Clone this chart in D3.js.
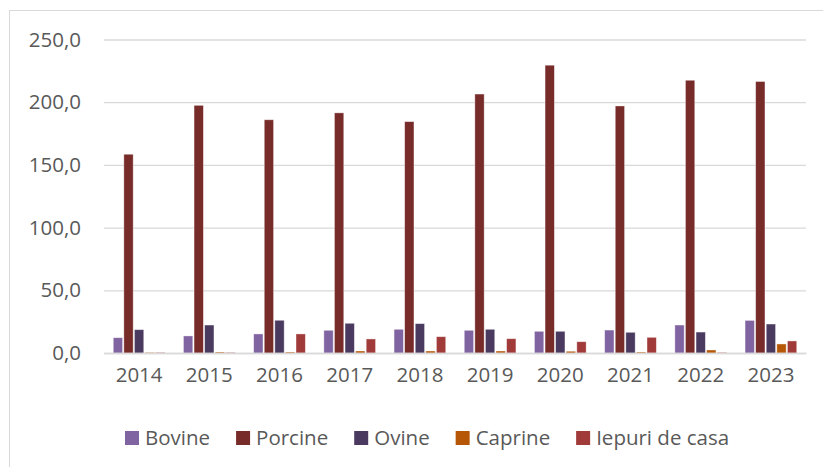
<!DOCTYPE html>
<html>
<head>
<meta charset="utf-8">
<script src="https://cdn.jsdelivr.net/npm/d3@7"></script>
<style>
  body { margin: 0; background: #fff; }
  text { font-family: "Open Sans", "Liberation Sans", sans-serif; fill: #595959; }
</style>
</head>
<body>
<div id="chart"></div>
<script>
// Data
var years = ["2014", "2015", "2016", "2017", "2018", "2019", "2020", "2021", "2022", "2023"];
var seriesNames = ["Bovine", "Porcine", "Ovine", "Caprine", "Iepuri de casa"];
var bovine  = [12.2, 13.6, 15.2, 18.1, 18.9, 18.1, 17.3, 18.3, 22.3, 26.0];
var porcine = [158.5, 197.5, 186.0, 191.5, 184.5, 206.5, 229.5, 197.0, 217.5, 216.5];
var ovine   = [18.6, 22.3, 26.1, 23.7, 23.4, 18.9, 17.3, 16.5, 16.7, 23.1];
var caprine = [0.5, 0.8, 0.8, 1.6, 1.6, 1.6, 1.4, 0.8, 2.4, 7.2];
var iepuri  = [0.5, 0.5, 15.2, 11.2, 13.0, 11.4, 9.0, 12.5, 0.5, 9.6];
var yTicks = [0, 50, 100, 150, 200, 250];
var colors = ["#8064a2", "#772c2a", "#4b3a60", "#b65708", "#a03b3a"];

var allSeries = [bovine, porcine, ovine, caprine, iepuri];

// Dimensions
var width = 823, height = 467;
var plotLeft = 104, plotRight = 806;
var plotTop = 39.5, plotBottom = 353;

var svg = d3.select("#chart").append("svg")
    .attr("width", width)
    .attr("height", height);

// chart border
svg.append("rect")
    .attr("x", 9.5).attr("y", 10.5)
    .attr("width", 830).attr("height", 470)
    .attr("fill", "none")
    .attr("stroke", "#d9d9d9");

var x0 = d3.scaleBand().domain(years).range([plotLeft, plotRight])
    .paddingInner(0.264).paddingOuter(0.132);
var x1 = d3.scaleBand().domain(seriesNames).range([0, x0.bandwidth()]).paddingInner(0.12);
var y = d3.scaleLinear().domain([0, 250]).range([plotBottom, plotTop]);

// gridlines
var yAxis = d3.axisLeft(y).tickValues(yTicks)
    .tickSize(-(plotRight - plotLeft))
    .tickPadding(23)
    .tickFormat(function(d) { return d3.format(".1f")(d).replace(".", ","); });

var yAxisG = svg.append("g")
    .attr("transform", "translate(" + plotLeft + ",0)")
    .call(yAxis);
yAxisG.select(".domain").remove();
yAxisG.selectAll("line").attr("stroke", "#d9d9d9").attr("stroke-width", 1.3);
yAxisG.selectAll("text").style("font-size", "20.5px").attr("fill", "#595959");

// bars
var groups = svg.selectAll("g.year").data(years).enter().append("g")
    .attr("class", "year")
    .attr("transform", function(d) { return "translate(" + x0(d) + ",0)"; });

groups.selectAll("rect").data(function(d, i) {
    return seriesNames.map(function(s, j) { return { name: s, value: allSeries[j][i], color: colors[j] }; });
  }).enter().append("rect")
    .attr("x", function(d) { return x1(d.name); })
    .attr("y", function(d) { return y(d.value); })
    .attr("width", x1.bandwidth())
    .attr("height", function(d) { return y(0) - y(d.value); })
    .attr("fill", function(d) { return d.color; })
    .attr("stroke", "#ffffff")
    .attr("stroke-opacity", 0.5)
    .attr("stroke-width", 0.75);

// x axis
var xAxis = d3.axisBottom(x0).tickSize(0).tickPadding(14);
var xAxisG = svg.append("g")
    .attr("transform", "translate(0," + plotBottom + ")")
    .call(xAxis);
xAxisG.select(".domain").attr("stroke", "#d9d9d9").attr("stroke-width", 1.3);
xAxisG.selectAll("text").style("font-size", "20.5px").attr("fill", "#595959");

// legend
var legend = svg.append("g").attr("transform", "translate(125,431)");
var lx = 0;
seriesNames.forEach(function(s, i) {
  var item = legend.append("g").attr("transform", "translate(" + lx + ",0)");
  item.append("rect").attr("width", 14).attr("height", 14).attr("fill", colors[i]);
  var t = item.append("text").attr("x", 20).attr("y", 7).attr("dy", "0.35em")
      .style("font-size", "20.5px").text(s);
  lx += 20 + t.node().getComputedTextLength() + 26;
});
</script>
</body>
</html>
